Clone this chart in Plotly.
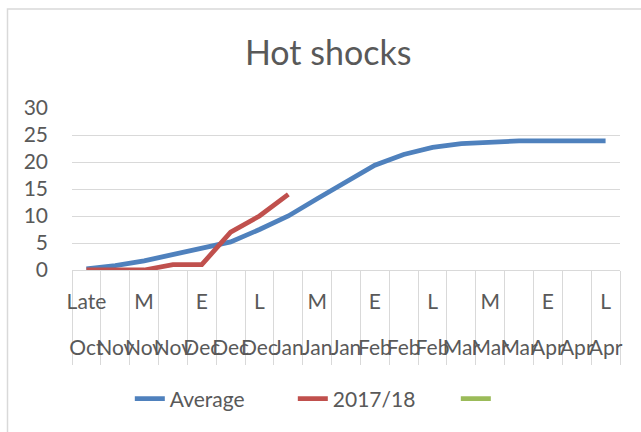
import plotly.graph_objects as go

categories = ["Late Oct", "E Nov", "M Nov", "L Nov", "E Dec", "M Dec", "L Dec",
              "E Jan", "M Jan", "L Jan", "E Feb", "M Feb", "L Feb",
              "E Mar", "M Mar", "L Mar", "E Apr", "M Apr", "L Apr"]
top_labels = ["Late", "", "M", "", "E", "", "L", "", "M", "", "E", "", "L", "", "M", "", "E", "", "L"]
bottom_labels = ["Oct", "Nov", "Nov", "Nov", "Dec", "Dec", "Dec", "Jan", "Jan", "Jan",
                 "Feb", "Feb", "Feb", "Mar", "Mar", "Mar", "Apr", "Apr", "Apr"]
average = [0.2, 0.8, 1.7, 2.9, 3.9, 5.2, 7.5, 10.0, 13.2, 16.3, 19.4, 21.4, 22.7,
           23.4, 23.7, 23.9, 23.9, 23.9, 23.9]
season_2017_18 = [0, 0, 0, 1, 1, 7, 10, 14]
y_ticks = [0, 5, 10, 15, 20, 25, 30]

FONT = "Lato"
TXT = "#595959"
GRID = "#d9d9d9"

n = len(categories)
xs = list(range(n))
boundaries = [i - 0.5 for i in range(n + 1)]

fig = go.Figure()
fig.add_trace(go.Scatter(x=xs, y=average, name="Average", mode="lines",
                         line=dict(color="#4f81bd", width=4.8)))
fig.add_trace(go.Scatter(x=xs[:len(season_2017_18)], y=season_2017_18, name="2017/18",
                         mode="lines", line=dict(color="#c0504d", width=4.8)))
fig.add_trace(go.Scatter(x=xs, y=[None] * n, name=" ", mode="lines",
                         line=dict(color="#9bbb59", width=4.8)))

fig.update_layout(
    width=641, height=432,
    margin=dict(l=72, r=21, t=108, b=162, autoexpand=False),
    paper_bgcolor="white", plot_bgcolor="white",
    font=dict(family=FONT, color=TXT, size=21),
    title=dict(text="Hot shocks", x=0.512, xanchor="center", y=0.877, yanchor="middle",
               font=dict(family=FONT, size=34, color=TXT)),
    showlegend=True,
    legend=dict(orientation="h", x=0.1055, xanchor="left", y=-0.796, yanchor="middle",
                font=dict(family=FONT, size=21, color=TXT),
                entrywidth=118, entrywidthmode="pixels", bgcolor="rgba(0,0,0,0)"),
    xaxis=dict(range=[-0.5, n - 0.5], tickmode="array", tickvals=boundaries,
               ticktext=[""] * len(boundaries), showticklabels=False, automargin=False,
               ticks="outside", ticklen=94, tickcolor=GRID, tickwidth=1,
               showline=True, linecolor=GRID, linewidth=1, showgrid=False, zeroline=False),
    xaxis2=dict(overlaying="x", matches="x", anchor="y", side="bottom", automargin=False,
                tickmode="array", tickvals=xs, ticktext=top_labels, tickangle=0,
                ticks="", ticklabelstandoff=17, showline=False, showgrid=False,
                zeroline=False, tickfont=dict(family=FONT, size=21, color=TXT)),
    xaxis3=dict(overlaying="x", matches="x", anchor="y", side="bottom", automargin=False,
                tickmode="array", tickvals=xs, ticktext=bottom_labels, tickangle=0,
                ticks="", ticklabelstandoff=63, showline=False, showgrid=False,
                zeroline=False, tickfont=dict(family=FONT, size=21, color=TXT)),
    yaxis=dict(range=[0, 30], tickmode="array", tickvals=y_ticks, showgrid=True,
               gridcolor=GRID, gridwidth=1, zeroline=False, showline=False, automargin=False,
               ticks="", ticklabelstandoff=23, tickfont=dict(family=FONT, size=21, color=TXT)),
)

# invisible helper traces so that xaxis2/xaxis3 render
fig.add_trace(go.Scatter(x=[0], y=[None], xaxis="x2", showlegend=False, hoverinfo="skip"))
fig.add_trace(go.Scatter(x=[0], y=[None], xaxis="x3", showlegend=False, hoverinfo="skip"))

fig.add_shape(type="rect", xref="paper", yref="paper",
              x0=(7.5 - 72) / 548, x1=(660 - 72) / 548,
              y0=(270 - 450) / 162, y1=(270 - 9) / 162,
              line=dict(color=GRID, width=1.5), fillcolor="rgba(0,0,0,0)", layer="below")

fig.write_html("out.html", config={"displayModeBar": False},
               post_script="document.body.style.margin='0';")
